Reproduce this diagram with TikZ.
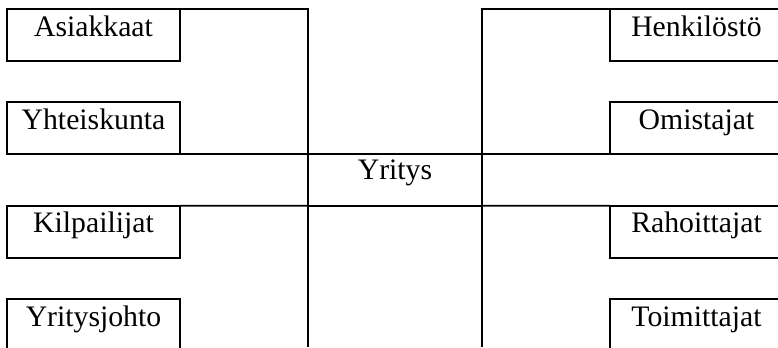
\documentclass[tikz,border=0pt]{standalone}
\usepackage{fontspec}
\setmainfont{Liberation Serif}
\begin{document}
\begin{tikzpicture}[x=0.75pt,y=-0.75pt,font=\fontsize{22.3}{27}\selectfont,
laatikko/.style={draw,line width=1.4pt,inner sep=0pt,outer sep=0pt,minimum width=129.75pt,
  text height=20.25pt,text depth=18.75pt},
viiva/.style={line width=1.4pt}]
\clip (0,0) rectangle (778,347);
\node[laatikko] (asiakkaat) at (93.5,35) {Asiakkaat};
\node[laatikko] (yhteiskunta) at (93.5,128) {Yhteiskunta};
\node[laatikko] (kilpailijat) at (93.5,231.7) {Kilpailijat};
\node[laatikko] (yritysjohto) at (93.5,325) {Yritysjohto};
\node[laatikko] (henkilosto) at (696.5,35) {Henkilöstö};
\node[laatikko] (omistajat) at (696.5,128) {Omistajat};
\node[laatikko] (rahoittajat) at (696.5,231.7) {Rahoittajat};
\node[laatikko] (toimittajat) at (696.5,325) {Toimittajat};
\node[laatikko,minimum width=131pt,text height=19.5pt,text depth=19.3pt] (yritys) at (395,179.85) {Yritys};
\coordinate (ala) at (395,347);
\draw[viiva] (asiakkaat.north east) -| (yritys.north west);
\draw[viiva] (henkilosto.north west) -| (yritys.north east);
\draw[viiva] (yritys.south west) -- (yritys.south west |- ala);
\draw[viiva] (yritys.south east) -- (yritys.south east |- ala);
\draw[viiva] (yhteiskunta.south east) -- (yritys.north west);
\draw[viiva] (yritys.north east) -- (omistajat.south west);
\draw[viiva] (kilpailijat.north east) -- (yritys.south west);
\draw[viiva] (yritys.south east) -- (rahoittajat.north west);
\end{tikzpicture}
\end{document}
